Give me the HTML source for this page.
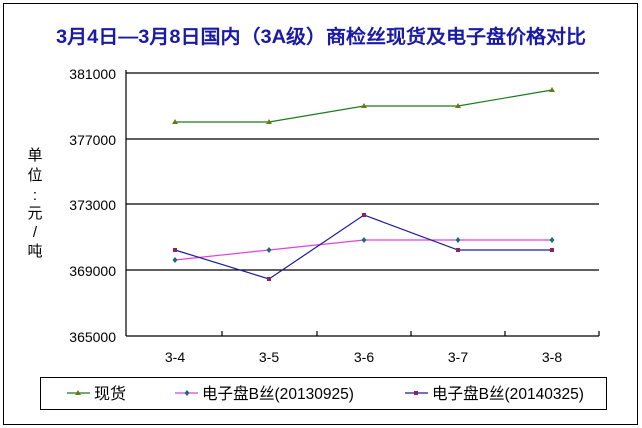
<!DOCTYPE html>
<html><head><meta charset="utf-8"><style>
html,body{margin:0;padding:0;background:#fff;}
svg{display:block;}
text{font-family:"Liberation Sans","WenQuanYi Zen Hei",sans-serif;}
</style></head><body>
<svg width="642" height="428" xmlns="http://www.w3.org/2000/svg">
<rect x="0" y="0" width="642" height="428" fill="#fff"/>
<rect x="3.5" y="3.5" width="634" height="421" fill="#fff" stroke="#000" stroke-width="1"/>
<text x="321" y="43" text-anchor="middle" font-size="19" font-weight="bold" fill="#1a1aa6" textLength="530" lengthAdjust="spacingAndGlyphs">3月4日—3月8日国内（3A级）商检丝现货及电子盘价格对比</text>
<g font-size="15" fill="#000" text-anchor="middle">
<text x="35" y="160">单</text><text x="35" y="180">位</text><text x="35" y="200">:</text><text x="35" y="218">元</text><text x="35" y="237">/</text><text x="35" y="256">吨</text>
</g>
<g stroke="#000" stroke-width="1.2">
<line x1="126" y1="73" x2="599" y2="73"/>
<line x1="126" y1="139" x2="599" y2="139"/>
<line x1="126" y1="204" x2="599" y2="204"/>
<line x1="126" y1="270" x2="599" y2="270"/>
<line x1="126" y1="336" x2="599" y2="336"/>
<line x1="126" y1="70" x2="126" y2="336"/>
<line x1="222" y1="336" x2="222" y2="331"/>
<line x1="317" y1="336" x2="317" y2="331"/>
<line x1="411" y1="336" x2="411" y2="331"/>
<line x1="505" y1="336" x2="505" y2="331"/>
<line x1="599" y1="336" x2="599" y2="331"/>
</g>
<g font-size="14" fill="#000" text-anchor="end">
<text x="116" y="79">381000</text><text x="116" y="145">377000</text><text x="116" y="210">373000</text><text x="116" y="276">369000</text><text x="116" y="342">365000</text>
</g>
<g font-size="14" fill="#000" text-anchor="middle">
<text x="175" y="362">3-4</text><text x="269" y="362">3-5</text><text x="364" y="362">3-6</text><text x="458" y="362">3-7</text><text x="552" y="362">3-8</text>
</g>
<polyline points="175,122 269,122 364,106 458,106 552,90" fill="none" stroke="#1e7a1e" stroke-width="1.2"/>
<g fill="#6b7a10">
<path d="M175,119 l3,5 h-6z"/><path d="M269,119 l3,5 h-6z"/><path d="M364,103 l3,5 h-6z"/><path d="M458,103 l3,5 h-6z"/><path d="M552,87 l3,5 h-6z"/>
</g>
<polyline points="175,260 269,250 364,240 458,240 552,240" fill="none" stroke="#e040e0" stroke-width="1.2"/>
<polyline points="175,250 269,279 364,215 458,250 552,250" fill="none" stroke="#1a1aa0" stroke-width="1.2"/>
<g fill="#157070">
<path d="M175,257 l2.5,3 -2.5,3 -2.5,-3z"/><path d="M269,247 l2.5,3 -2.5,3 -2.5,-3z"/><path d="M364,237 l2.5,3 -2.5,3 -2.5,-3z"/><path d="M458,237 l2.5,3 -2.5,3 -2.5,-3z"/><path d="M552,237 l2.5,3 -2.5,3 -2.5,-3z"/>
</g>
<g fill="#902060">
<rect x="173" y="248" width="4" height="4"/><rect x="267" y="277" width="4" height="4"/><rect x="362" y="213" width="4" height="4"/><rect x="456" y="248" width="4" height="4"/><rect x="550" y="248" width="4" height="4"/>
</g>
<rect x="40.5" y="377.5" width="566" height="32" fill="#fff" stroke="#000" stroke-width="1"/>
<line x1="67" y1="393" x2="90" y2="393" stroke="#1e7a1e" stroke-width="1.2"/><path d="M78,390 l3,5 h-6z" fill="#6b7a10"/>
<line x1="175" y1="393" x2="198" y2="393" stroke="#e040e0" stroke-width="1.2"/><path d="M187,390 l2.5,3 -2.5,3 -2.5,-3z" fill="#157070"/>
<line x1="405" y1="393" x2="428" y2="393" stroke="#1a1aa0" stroke-width="1.2"/><rect x="414" y="391" width="4" height="4" fill="#902060"/>
<g font-size="16" fill="#000">
<text x="94" y="399">现货</text>
<text x="202" y="399" textLength="152" lengthAdjust="spacingAndGlyphs">电子盘B丝(20130925)</text>
<text x="432" y="399" textLength="152" lengthAdjust="spacingAndGlyphs">电子盘B丝(20140325)</text>
</g>
</svg>
</body></html>
